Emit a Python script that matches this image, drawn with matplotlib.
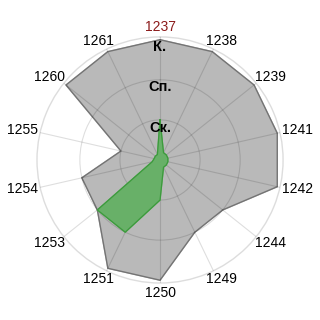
import numpy as np
import matplotlib.pyplot as plt

plt.rcParams['font.family'] = ['Liberation Sans', 'DejaVu Sans']

categories = ['1237', '1238', '1239', '1241', '1242', '1244', '1249',
              '1250', '1251', '1253', '1254', '1255', '1260', '1261']
gray_vals = [3, 3, 3, 3, 3, 2, 2, 3, 3, 2, 2, 1, 3, 3]
green_vals = [1.0, 0.2, 0.2, 0.2, 0.2, 0.2, 0.2,
              1.0, 2.0, 2.0, 0.2, 0.15, 0.15, 0.15]
level_labels = ['Ск.', 'Сп.', 'К.']
level_values = [1, 2, 3]

n = len(categories)
theta = np.linspace(0, 2 * np.pi, n, endpoint=False)
theta_c = np.append(theta, theta[0])

fig = plt.figure(figsize=(3.2, 3.2), dpi=100)
ax = fig.add_axes([0.1156, 0.1156, 0.769, 0.769], projection='polar')
ax.set_theta_zero_location('N')
ax.set_theta_direction(-1)
ax.set_ylim(0, 3.07)

g = np.append(gray_vals, gray_vals[0])
ax.fill(theta_c, g, color='#b9b9b9', zorder=1)
ax.plot(theta_c, g, color='#747474', lw=1.0, zorder=2)

gr = np.append(green_vals, green_vals[0])
ax.fill(theta_c, gr, color='#68b068', zorder=3)
ax.plot(theta_c, gr, color='#3c9a3c', lw=0.9, zorder=4)

# grid on top of the fills
ax.set_axisbelow(False)
ax.set_xticks(theta)
ax.set_xticklabels([])
ax.set_yticks([1, 2])
ax.set_yticklabels([])
ax.grid(True, color='black', alpha=0.13, lw=0.8)
ax.spines['polar'].set_color('#dddddd')
ax.spines['polar'].set_linewidth(1.0)
ax.tick_params(length=0)

# category labels outside the circle
r_lab = 3.17
for t, lab in zip(theta, categories):
    s, c = np.sin(t), np.cos(t)
    col = '#8b1a1a' if lab == '1237' else 'black'
    ax.annotate(lab, xy=(t, r_lab), xytext=(s * 14, c * 5.5),
                textcoords='offset pixels', ha='center', va='center',
                fontsize=10, color=col, annotation_clip=False)

# level labels along the top spoke
for v, lab in zip(level_values, level_labels):
    ax.text(0, v - 0.19, lab, ha='center', va='center', fontsize=10.5,
            fontweight='bold', color='black', zorder=6)

fig.savefig('out.png', dpi=100)
